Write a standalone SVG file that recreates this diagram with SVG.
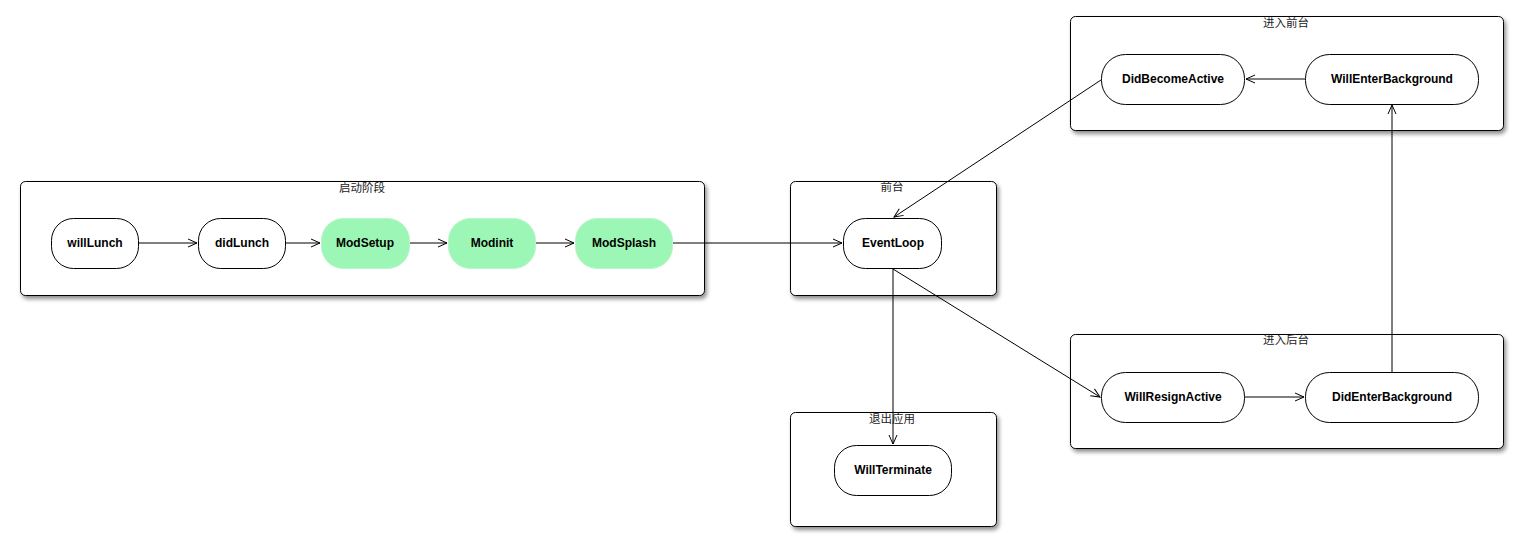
<svg xmlns="http://www.w3.org/2000/svg" width="1523" height="552" viewBox="0 0 1523 552">
<style>
.cont{fill:#fff;stroke:#000;stroke-width:1;filter:url(#sh)}
.clab{font-family:"Noto Sans CJK SC","Noto Sans",sans-serif;font-size:11.5px;fill:#222;text-anchor:middle}
.node{fill:#fff;stroke:#000;stroke-width:1}
.green{fill:#9cf7b6;stroke:#b8f5c8;stroke-width:1}
.nlab{font-family:"Liberation Sans",Arial,sans-serif;font-size:12px;font-weight:bold;fill:#000;text-anchor:middle}
.conn{stroke:#000;stroke-width:1;fill:none;marker-end:url(#arr)}
</style>
<defs>
<filter id="sh" x="-5%" y="-10%" width="112%" height="130%">
<feDropShadow dx="2" dy="3" stdDeviation="2" flood-color="#000" flood-opacity="0.45"/>
</filter>
<marker id="arr" markerWidth="12" markerHeight="10" refX="10" refY="5" orient="auto" markerUnits="userSpaceOnUse">
<path d="M1,1 L10,5 L1,9" fill="none" stroke="#000" stroke-width="1"/>
</marker>
</defs>
<rect width="1523" height="552" fill="#fff"/>
<g id="c-launch"><rect class="cont" x="20.5" y="181.5" width="684" height="114" rx="5"/><text class="clab" x="362" y="192">启动阶段</text></g>
<g id="c-front"><rect class="cont" x="790.5" y="181.5" width="206" height="114" rx="5"/><text class="clab" x="892" y="191">前台</text></g>
<g id="c-exit"><rect class="cont" x="790.5" y="412.5" width="206" height="114" rx="5"/><text class="clab" x="892" y="423">退出应用</text></g>
<g id="c-enterfg"><rect class="cont" x="1070.5" y="16.5" width="433" height="114" rx="5"/><text class="clab" x="1286" y="27">进入前台</text></g>
<g id="c-enterbg"><rect class="cont" x="1070.5" y="334.5" width="433" height="114" rx="5"/><text class="clab" x="1286" y="344">进入后台</text></g>
<g id="connectors">
<line class="conn" x1="139" y1="243" x2="197" y2="243"/>
<line class="conn" x1="286" y1="243" x2="320" y2="243"/>
<line class="conn" x1="410" y1="243" x2="447" y2="243"/>
<line class="conn" x1="536" y1="243" x2="574" y2="243"/>
<line class="conn" x1="673" y1="243" x2="842" y2="243"/>
<line class="conn" x1="1101" y1="80" x2="894" y2="217"/>
<line class="conn" x1="1305" y1="79" x2="1246" y2="79"/>
<line class="conn" x1="893" y1="269" x2="893" y2="444"/>
<line class="conn" x1="893" y1="269" x2="1100" y2="397"/>
<line class="conn" x1="1245" y1="397" x2="1304" y2="397"/>
<line class="conn" x1="1392" y1="372" x2="1392" y2="105"/>
</g>
<g id="n-willLunch"><rect class="node" x="51.5" y="218.5" width="87" height="50" rx="22"/><text class="nlab" x="95" y="247">willLunch</text></g>
<g id="n-didLunch"><rect class="node" x="198.5" y="218.5" width="87" height="50" rx="22"/><text class="nlab" x="242" y="247">didLunch</text></g>
<g id="n-ModSetup"><rect class="green" x="321.5" y="218.5" width="88" height="50" rx="22"/><text class="nlab" x="365" y="247">ModSetup</text></g>
<g id="n-Modinit"><rect class="green" x="448.5" y="218.5" width="87" height="50" rx="22"/><text class="nlab" x="492" y="247">Modinit</text></g>
<g id="n-ModSplash"><rect class="green" x="575.5" y="218.5" width="97" height="50" rx="22"/><text class="nlab" x="624" y="247">ModSplash</text></g>
<g id="n-EventLoop"><rect class="node" x="843.5" y="218.5" width="98" height="50" rx="22"/><text class="nlab" x="893" y="247">EventLoop</text></g>
<g id="n-WillTerminate"><rect class="node" x="834.5" y="445.5" width="117" height="50" rx="22"/><text class="nlab" x="893" y="474">WillTerminate</text></g>
<g id="n-DidBecomeActive"><rect class="node" x="1101.5" y="54.5" width="143" height="50" rx="24"/><text class="nlab" x="1173" y="83">DidBecomeActive</text></g>
<g id="n-WillEnterBackground"><rect class="node" x="1305.5" y="54.5" width="173" height="50" rx="24"/><text class="nlab" x="1392" y="83">WillEnterBackground</text></g>
<g id="n-WillResignActive"><rect class="node" x="1101.5" y="372.5" width="143" height="50" rx="24"/><text class="nlab" x="1173" y="401">WillResignActive</text></g>
<g id="n-DidEnterBackground"><rect class="node" x="1305.5" y="372.5" width="173" height="50" rx="24"/><text class="nlab" x="1392" y="401">DidEnterBackground</text></g>
</svg>
